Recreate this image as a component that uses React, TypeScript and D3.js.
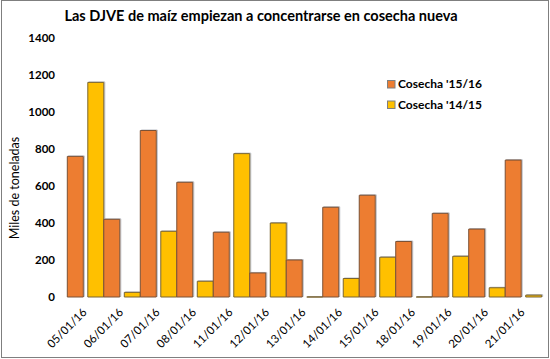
import React from "react";
import * as d3 from "d3";

const categories = ["05/01/16", "06/01/16", "07/01/16", "08/01/16", "11/01/16", "12/01/16", "13/01/16", "14/01/16", "15/01/16", "18/01/16", "19/01/16", "20/01/16", "21/01/16"];
const cosecha1516 = [760, 420, 900, 620, 350, 130, 200, 485, 550, 300, 452, 367, 740];
const cosecha1415 = [1160, 25, 355, 85, 775, 400, 0, 100, 215, 0, 220, 50, 10];
const yTicks = [0, 200, 400, 600, 800, 1000, 1200, 1400];
const seriesNames = ["Cosecha '15/16", "Cosecha '14/15"];
const seriesKeys = ["o", "y"];

const W = 550;
const H = 359;
const FONT = "Lato, 'Open Sans', sans-serif";
const ORANGE = "#ED7D31";
const YELLOW = "#FFC000";

export default function App() {
  const x0 = d3.scaleBand<string>().domain(categories).range([67.3, 541.7]).paddingInner(0).paddingOuter(0);
  const x1 = d3.scaleBand<string>().domain(seriesKeys).range([0, x0.bandwidth()]).paddingInner(0.22).paddingOuter(0);
  const y = d3.scaleLinear().domain([0, 1400]).range([297, 38]);
  const y0 = y(0);
  const w = x1.bandwidth();

  const barPath = (x: number, v: number) => `M${x},${y0}V${y(v)}H${x + w}V${y0}Z`;

  const bars: React.ReactNode[] = [];
  categories.forEach((c, i) => {
    const xs = [x0(c)! + x1("o")!, x0(c)! + x1("y")!];
    const vals = [cosecha1516[i], cosecha1415[i]];
    const fills = [ORANGE, YELLOW];
    const strokes = ["#7b5236", "#7a6530"];
    xs.forEach((xx, j) => {
      bars.push(
        <path key={`s${i}-${j}`} d={barPath(xx + 1, vals[j])} fill="none" stroke="#b8bcc4" strokeWidth={1} transform="translate(0,-0.5)" />
      );
      bars.push(
        <path key={`b${i}-${j}`} d={barPath(xx, vals[j])} fill={fills[j]} stroke={strokes[j]} strokeWidth={1} />
      );
    });
  });

  return (
    <svg width={W} height={H} style={{ position: "absolute", left: 0, top: 0, background: "#fff" }} fontFamily={FONT}>
      <rect x={0} y={0} width={W} height={H} fill="#fff" />
      <rect x={1.5} y={0.5} width={547} height={357} fill="none" stroke="#7f7f7f" strokeWidth={1} />
      <text x={261} y={21} textAnchor="middle" fontSize={14.5} fontWeight="bold" fill="#000">
        Las DJVE de maíz empiezan a concentrarse en cosecha nueva
      </text>
      {yTicks.map((t) => (
        <text key={t} x={55} y={y(t)} dy="0.35em" textAnchor="end" fontSize={11.5} fontWeight="bold" fill="#000">
          {t}
        </text>
      ))}
      <text transform={`translate(19,188) rotate(-90)`} textAnchor="middle" fontSize={12.5} fill="#000">
        Miles de toneladas
      </text>
      {bars}
      {categories.map((c) => {
        const cx = x0(c)! + x0.bandwidth() / 2;
        return (
          <text key={c} transform={`translate(${cx + 2},${313}) rotate(-45)`} textAnchor="end" fontSize={11.5} fill="#000">
            {c}
          </text>
        );
      })}
      {seriesNames.map((n, i) => (
        <g key={n} transform={`translate(387,${80 + i * 20.5})`}>
          <rect x={0.5} y={0.5} width={7.5} height={7.5} fill={i === 0 ? ORANGE : YELLOW} stroke="#7f7f7f" strokeWidth={1} />
          <text x={11} y={4.2} dy="0.35em" fontSize={12} fontWeight="bold" fill="#000">
            {n}
          </text>
        </g>
      ))}
    </svg>
  );
}
